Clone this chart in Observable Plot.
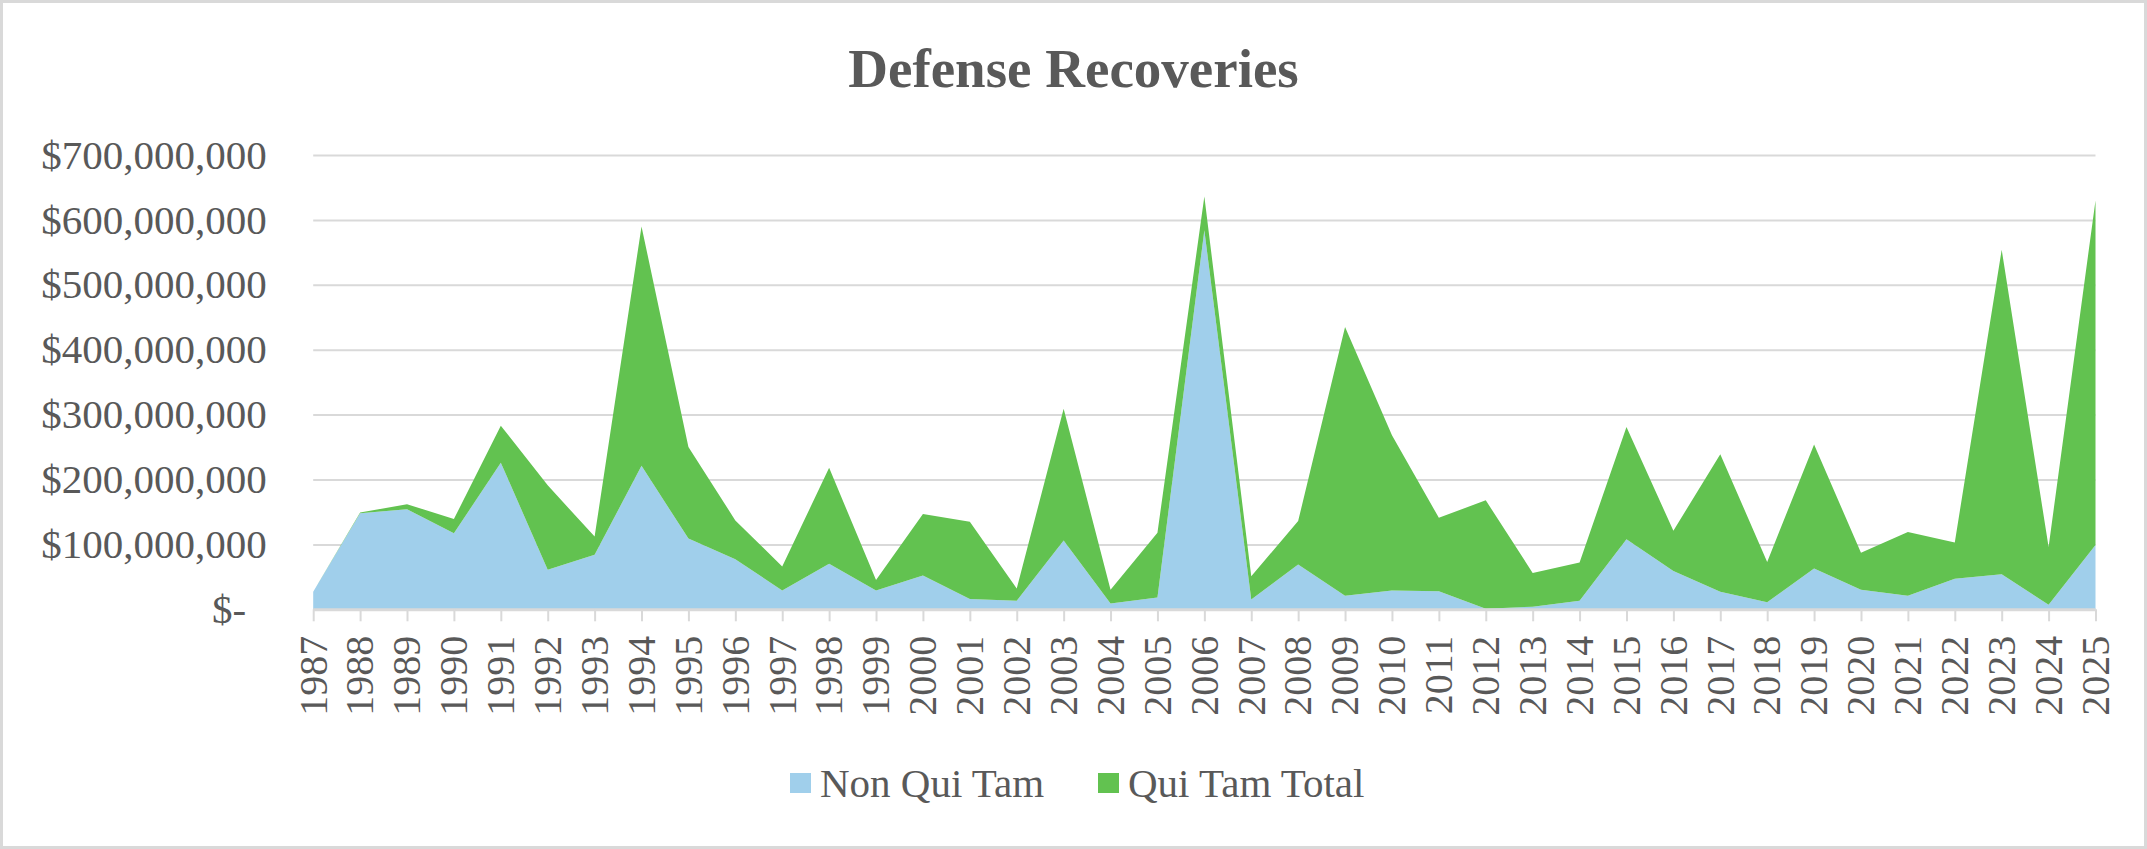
<!DOCTYPE html>
<html><head><meta charset="utf-8">
<script src="https://cdn.jsdelivr.net/npm/d3@7"></script>
<script src="https://cdn.jsdelivr.net/npm/@observablehq/plot@0.6"></script>
<style>
html,body{margin:0;padding:0;background:#fff;}
#page{position:relative;width:2147px;height:849px;overflow:hidden;font-family:"Liberation Serif","Times New Roman",serif;color:#595959;background:#fff;}
#frame{position:absolute;left:0;top:0;width:2147px;height:849px;box-sizing:border-box;border:3px solid #d9d9d9;pointer-events:none;}
#title{position:absolute;left:0;top:41px;width:2147px;text-align:center;font-size:55px;line-height:55px;font-weight:bold;white-space:nowrap;}
#chart{position:absolute;left:0;top:100px;}
.leg{position:absolute;top:762.7px;height:41px;display:flex;align-items:center;font-size:41px;line-height:41px;white-space:nowrap;}
.sw{width:21px;height:20px;margin-right:9px;display:inline-block;}
</style></head>
<body>
<div id="page">
  <div id="title">Defense Recoveries</div>
  <div id="chart"></div>
  <div class="leg" id="leg0" style="left:790px"></div>
  <div class="leg" id="leg1" style="left:1098px"></div>
  <div id="frame"></div>
</div>
<script>
const years = [1987,1988,1989,1990,1991,1992,1993,1994,1995,1996,1997,1998,1999,2000,2001,2002,2003,2004,2005,2006,2007,2008,2009,2010,2011,2012,2013,2014,2015,2016,2017,2018,2019,2020,2021,2022,2023,2024,2025];
// values in millions of dollars
const nonQuiTam = [27,148,154,117,226,61,84,221,109,77,29,70,29,52,16,13,106,9,18,584,15,69,21,29,28,1,4,13,108,59,27,11,63,30,21,47,54,7,99];
const quiTamTotal = [0,1,8,22,57,130,28,369,141,60,37,148,16,95,119,19,203,21,100,52,36,67,414,239,113,167,52,59,173,62,212,62,191,57,98,56,500,89,531];
const seriesNames = ["Non Qui Tam", "Qui Tam Total"];
const seriesColors = ["#a0cfeb", "#62c250"];
const yTicks = [0,100e6,200e6,300e6,400e6,500e6,600e6,700e6];

const rows = [];
years.forEach((yr, i) => {
  rows.push({year: yr, series: seriesNames[0], value: nonQuiTam[i] * 1e6});
  rows.push({year: yr, series: seriesNames[1], value: quiTamTotal[i] * 1e6});
});

const fmt = d3.format(",");
const yFormat = d => d === 0 ? "$-\u00a0\u00a0" : "$" + fmt(d);

const chart = Plot.plot({
  width: 2147,
  height: 640,
  marginLeft: 313.2,
  marginRight: 51.5,
  marginTop: 55,
  marginBottom: 130.7,
  style: {fontFamily: "'Liberation Serif','Times New Roman',serif", color: "#595959", background: "transparent", overflow: "visible"},
  x: {type: "linear", domain: [years[0], years[years.length - 1]], label: null},
  y: {domain: [0, 700e6], label: null},
  color: {domain: seriesNames, range: seriesColors},
  marks: [
    Plot.gridY(yTicks, {stroke: "#d9d9d9", strokeOpacity: 1, strokeWidth: 2}),
    Plot.areaY(rows, {x: "year", y: "value", fill: "series", order: seriesNames}),
    Plot.ruleY([0], {stroke: "#d9d9d9", strokeWidth: 3}),
    Plot.axisX(years, {tickSize: 12, tickPadding: 14, tickRotate: -90, textAnchor: "end", lineAnchor: "middle",
      tickFormat: d => String(d), fontSize: 40, stroke: "#d9d9d9", strokeWidth: 2, fill: "#595959", label: null}),
    Plot.axisY(yTicks, {tickSize: 0, tickPadding: 47, tickFormat: yFormat, fontSize: 41, fill: "#595959", label: null})
  ]
});
document.getElementById("chart").appendChild(chart);

seriesNames.forEach((name, i) => {
  const el = document.getElementById("leg" + i);
  const sw = document.createElement("span");
  sw.className = "sw";
  sw.style.background = seriesColors[i];
  el.appendChild(sw);
  el.appendChild(document.createTextNode(name));
});
</script>
</body></html>
